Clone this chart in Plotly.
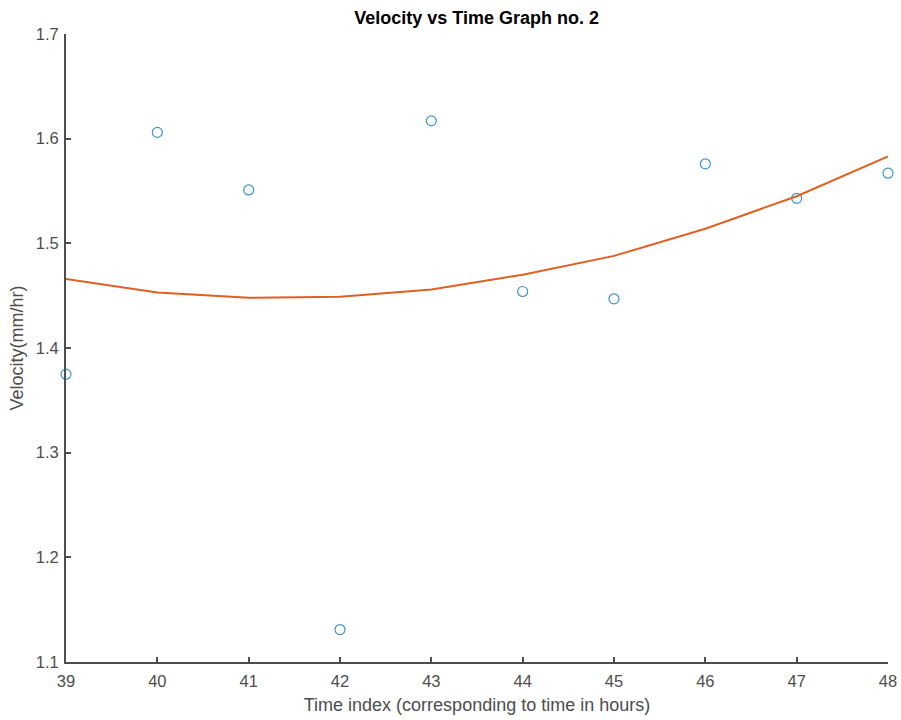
import plotly.graph_objects as go

time_idx = [39, 40, 41, 42, 43, 44, 45, 46, 47, 48]
velocity = [1.375, 1.606, 1.551, 1.131, 1.617, 1.454, 1.447, 1.576, 1.543, 1.567]
fit_vals = [1.466, 1.453, 1.448, 1.449, 1.456, 1.470, 1.488, 1.514, 1.545, 1.583]

FONT = "Liberation Sans, Arial"

fig = go.Figure()
fig.add_trace(go.Scatter(
    x=time_idx, y=velocity, mode="markers",
    marker=dict(symbol="circle-open", size=10, color="#3E93D1", line=dict(width=1.2)),
    showlegend=False, cliponaxis=False))
fig.add_trace(go.Scatter(
    x=time_idx, y=fit_vals, mode="lines",
    line=dict(color="#E06020", width=2),
    showlegend=False, cliponaxis=False))

axis_common = dict(
    showgrid=False, zeroline=False, showline=True, linecolor="#4d4d4d", linewidth=2,
    ticks="inside", ticklen=5, tickwidth=1.5, tickcolor="#4d4d4d",
    tickfont=dict(family=FONT, size=16.5, color="#4d4d4d"),
    mirror=False, automargin=False)

fig.update_layout(
    width=901, height=720,
    margin=dict(l=66, r=13, t=34, b=58),
    paper_bgcolor="white", plot_bgcolor="white",
    title=dict(text="<b>Velocity vs Time Graph no. 2</b>", x=0.529, xanchor="center",
               y=0.975, yanchor="middle",
               font=dict(family=FONT, size=18, color="black")),
    xaxis=dict(range=[39, 48], tickvals=time_idx, ticktext=[str(t) for t in time_idx],
               ticklabelstandoff=3,
               title=dict(text="Time index (corresponding to time in hours)", standoff=10,
                          font=dict(family=FONT, size=18, color="#4d4d4d")),
               **axis_common),
    yaxis=dict(range=[1.1, 1.7], tickvals=[1.1, 1.2, 1.3, 1.4, 1.5, 1.6, 1.7],
               ticktext=["1.1", "1.2", "1.3", "1.4", "1.5", "1.6", "1.7"],
               ticklabelstandoff=2,
               title=dict(text="Velocity(mm/hr)", standoff=7,
                          font=dict(family=FONT, size=18, color="#4d4d4d")),
               **axis_common),
)

fig.write_html("out.html")
